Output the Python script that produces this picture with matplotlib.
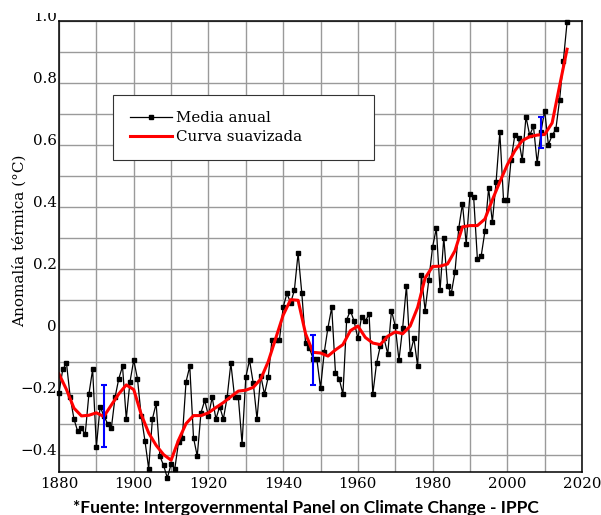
import matplotlib
matplotlib.use("Agg")
import matplotlib.pyplot as plt
import numpy as np
from matplotlib.patches import Rectangle

# annual mean temperature anomaly, 1880-2016
years = list(range(1880, 2017))
media_anual = [
    -0.20, -0.125, -0.105, -0.215, -0.285, -0.325, -0.315, -0.335, -0.205, -0.125,
    -0.375, -0.245, -0.275, -0.30, -0.315, -0.215, -0.155, -0.115, -0.285, -0.165,
    -0.095, -0.155, -0.275, -0.355, -0.445, -0.285, -0.235, -0.405, -0.435, -0.475,
    -0.43, -0.445, -0.36, -0.345, -0.165, -0.115, -0.345, -0.405, -0.265, -0.225,
    -0.275, -0.215, -0.285, -0.245, -0.285, -0.215, -0.105, -0.215, -0.215, -0.365,
    -0.15, -0.095, -0.17, -0.285, -0.145, -0.205, -0.15, -0.03, -0.03, -0.03,
    0.075, 0.12, 0.09, 0.13, 0.25, 0.12, -0.04, -0.055, -0.09, -0.09,
    -0.185, -0.07, 0.01, 0.075, -0.135, -0.155, -0.205, 0.035, 0.065, 0.03,
    -0.025, 0.045, 0.03, 0.055, -0.205, -0.105, -0.05, -0.025, -0.075, 0.065,
    0.015, -0.095, 0.01, 0.145, -0.075, -0.025, -0.115, 0.18, 0.065, 0.165,
    0.27, 0.33, 0.13, 0.30, 0.145, 0.12, 0.19, 0.33, 0.41, 0.28,
    0.44, 0.43, 0.23, 0.24, 0.32, 0.46, 0.35, 0.48, 0.64, 0.42,
    0.42, 0.55, 0.63, 0.62, 0.55, 0.69, 0.63, 0.66, 0.54, 0.64,
    0.71, 0.60, 0.63, 0.65, 0.745, 0.87, 0.995,
]

smooth_years = list(range(1880, 2017, 2))
curva_suavizada = [
    -0.14, -0.19, -0.25, -0.275, -0.273, -0.265, -0.277, -0.24, -0.204, -0.175,
    -0.19, -0.27, -0.33, -0.37, -0.40, -0.418, -0.353, -0.30, -0.274, -0.274,
    -0.265, -0.248, -0.232, -0.213, -0.195, -0.192, -0.183, -0.156, -0.10, -0.025,
    0.05, 0.10, 0.098, -0.01, -0.07, -0.072, -0.082, -0.062, -0.045, 0.0,
    0.015, -0.022, -0.04, -0.045, -0.018, -0.004, -0.01, 0.015, 0.075, 0.17,
    0.207, 0.208, 0.215, 0.258, 0.335, 0.339, 0.339, 0.36, 0.422, 0.48,
    0.535, 0.58, 0.613, 0.626, 0.631, 0.633, 0.67, 0.79, 0.908,
]

# uncertainty bars
err_years = [1892, 1948, 2009]
err_center = [-0.274, -0.095, 0.64]
err_size = [0.10, 0.08, 0.05]

xticks = [1880, 1900, 1920, 1940, 1960, 1980, 2000, 2020]
yticks = [-0.4, -0.2, 0.0, 0.2, 0.4, 0.6, 0.8, 1.0]
ytick_labels = ["\u22120.4", "\u22120.2", "0", "0.2", "0.4", "0.6", "0.8", "1.0"]


def main():
    plt.rcParams["font.family"] = "DejaVu Serif"
    fig = plt.figure(figsize=(6.01, 5.15), dpi=100)
    ax = fig.add_axes([0.0982, 0.0841, 0.8702, 0.8757])

    ax.plot(years, media_anual, "-s", color="black", lw=0.9, ms=3.4,
            clip_on=False, zorder=3, label="Media anual")
    ax.plot(smooth_years, curva_suavizada, "-", color="red", lw=2.2,
            zorder=4, label="Curva suavizada")
    ax.errorbar(err_years, err_center, yerr=err_size, fmt="none",
                ecolor="blue", elinewidth=1.5, capsize=2.4, capthick=1.5,
                zorder=5)

    ax.set_xlim(1880, 2020)
    ax.set_ylim(-0.455, 1.0)
    ax.set_xticks(xticks)
    ax.set_xticks(np.arange(1890, 2020, 20), minor=True)
    ax.set_yticks(yticks)
    ax.set_yticklabels(ytick_labels)
    ax.set_yticks(np.arange(-0.3, 1.0, 0.2), minor=True)
    ax.grid(True, which="both", color="#9a9a9a", lw=1.0)
    ax.set_axisbelow(True)
    ax.tick_params(which="both", length=0, labelsize=10.8)
    ax.tick_params(axis="x", pad=3.5)
    ax.tick_params(axis="y", pad=1.5)
    for lab in ax.get_yticklabels():
        lab.set_va("baseline")
    for s in ax.spines.values():
        s.set_linewidth(1.1)
        s.set_zorder(6)

    ax.set_ylabel("Anomalía térmica (°C)", fontsize=11)
    ax.yaxis.set_label_coords(-0.061, 0.511)

    leg = ax.legend(loc="upper left", bbox_to_anchor=(0.1033, 0.5, 0.499, 0.3353),
                    mode="expand", borderaxespad=0, fancybox=False, framealpha=1,
                    edgecolor="#333333", fontsize=10.8, numpoints=1,
                    handlelength=2.8, handletextpad=0.3, borderpad=1.1,
                    labelspacing=0.3)
    leg.get_frame().set_linewidth(0.8)
    leg.set_zorder(7)

    fig.text(0.509, 0.004, "*Fuente: Intergovernmental Panel on Climate Change - IPPC",
             family="Lato", weight="bold", fontsize=12.5, ha="center", va="baseline")

    # top of the figure was cut off in the original
    fig.add_artist(Rectangle((0, 1 - 13 / 515), 1, 13 / 515, transform=fig.transFigure,
                             facecolor="white", edgecolor="none", zorder=20))

    fig.savefig("out.png", dpi=100)


if __name__ == "__main__":
    main()
